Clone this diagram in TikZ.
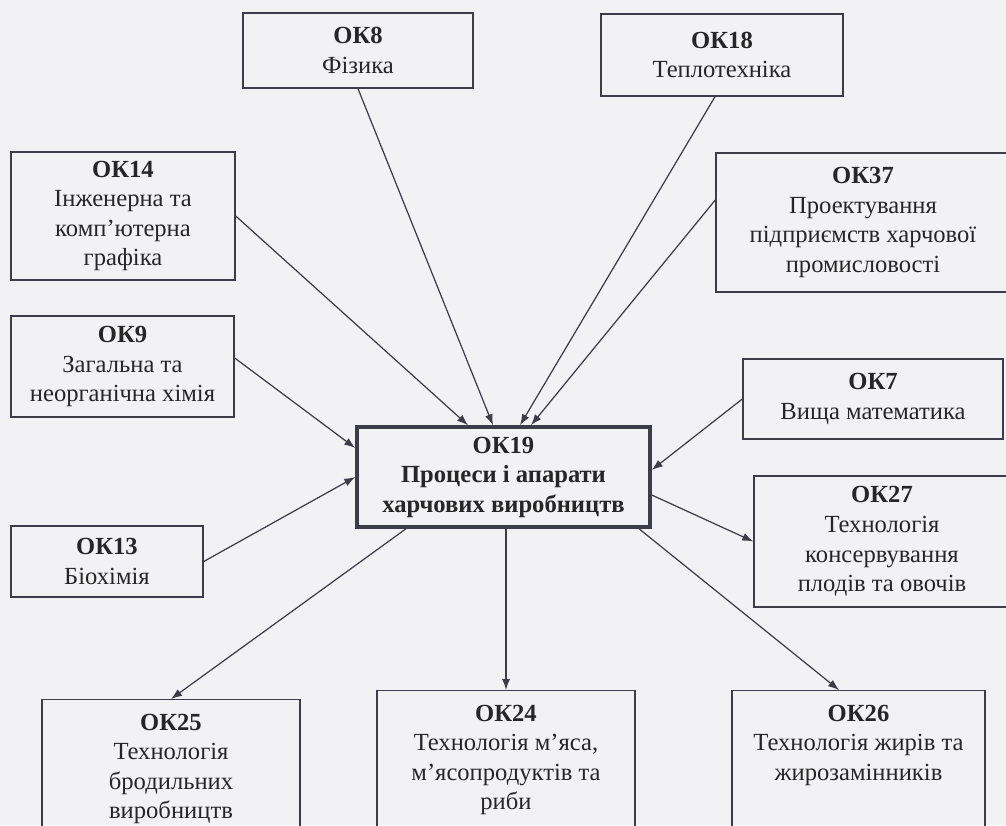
\documentclass[tikz,border=0pt]{standalone}
\usepackage{fontspec}
\setmainfont{Liberation Serif}
\usetikzlibrary{arrows.meta}

\definecolor{paper}{RGB}{242,242,244}
\definecolor{ink}{RGB}{60,60,74}

\begin{document}
\begin{tikzpicture}[x=0.2mm, y=-0.2mm]
            \fill[paper] (0,0) rectangle (1006,825);
            \useasboundingbox (0,0) rectangle (1006,825);

            \begin{scope}[
                    every node/.style={rectangle, draw=ink, line width=0.8pt, text=black!85, align=center, inner sep=2pt, font=\fontsize{14pt}{16.8pt}\selectfont}
                ]

                \node[minimum width=46mm, minimum height=15mm] (ok8) at (358,50.5) {\textbf{ОК8}\\Фізика};
                \node[minimum width=48.4mm, minimum height=16.4mm] (ok18) at (722,55) {\textbf{ОК18}\\Теплотехніка};
                \node[minimum width=44.8mm, minimum height=25.6mm] (ok14) at (123,216) {\textbf{ОК14}\\Інженерна та\\комп’ютерна\\графіка};
                \node[minimum width=58.8mm, minimum height=27.8mm] (ok37) at (863,222.5) {\textbf{ОК37}\\Проектування\\підприємств харчової\\промисловості};
                \node[minimum width=44.6mm, minimum height=20.2mm] (ok9) at (122.5,366.5) {\textbf{ОК9}\\Загальна та\\неорганічна хімія};
                \node[minimum width=52mm, minimum height=16mm] (ok7) at (873,399) {\textbf{ОК7}\\Вища математика};
                \node[minimum width=51.2mm, minimum height=26.2mm] (ok27) at (882,541.5) {\textbf{ОК27}\\Технологія\\консервування\\плодів та овочів};
                \node[minimum width=38.4mm, minimum height=14.2mm] (ok13) at (107,561.5) {\textbf{ОК13}\\Біохімія};

                % the bottom row runs past the lower edge
                \node[anchor=north, minimum width=51.6mm, inner ysep=8pt, text depth=30mm] (ok25) at (171,699) {\textbf{ОК25}\\Технологія\\бродильних\\виробництв};
                \node[anchor=north, minimum width=51.6mm, inner ysep=8pt, text depth=30mm] (ok24) at (506,690) {\textbf{ОК24}\\Технологія м’яса,\\м’ясопродуктів та\\риби};
                \node[anchor=north, minimum width=50.6mm, inner ysep=8pt, text depth=30mm] (ok26) at (858.5,690) {\textbf{ОК26}\\Технологія жирів та\\жирозамінників};

                \node[minimum width=58.6mm, minimum height=20mm, line width=2pt, font=\fontsize{14pt}{16.8pt}\selectfont\bfseries] (ok19) at (503.5,477) {ОК19\\Процеси і апарати\\харчових виробництв};
            \end{scope}

            \begin{scope}[
                    every edge/.style={draw=ink, line width=0.7pt, -{Latex[length=2.2mm, width=1.6mm]}}
                ]
                \draw (ok14.east) edge ([xshift=-7.1mm]ok19.north);
                \draw (ok8.south) edge ([xshift=-2.1mm]ok19.north);
                \draw ([xshift=-1.4mm]ok18.south) edge ([xshift=3.3mm]ok19.north);
                \draw ([yshift=4.5mm]ok37.west) edge ([xshift=5.5mm]ok19.north);
                \draw ([yshift=1.7mm]ok9.east) edge ([yshift=5.8mm]ok19.west);
                \draw (ok13.east) edge (ok19.west);
                \draw (ok7.west) edge ([yshift=1.4mm]ok19.east);

                \draw ([yshift=-3.6mm]ok19.east) edge (ok27.west);
                \draw ([xshift=-19.5mm]ok19.south) edge (ok25.north);
                \draw (ok19.south -| ok24.north) edge (ok24.north);
                \draw ([xshift=27.1mm]ok19.south) edge ([xshift=-3.9mm]ok26.north);
            \end{scope}

        \end{tikzpicture}
\end{document}
